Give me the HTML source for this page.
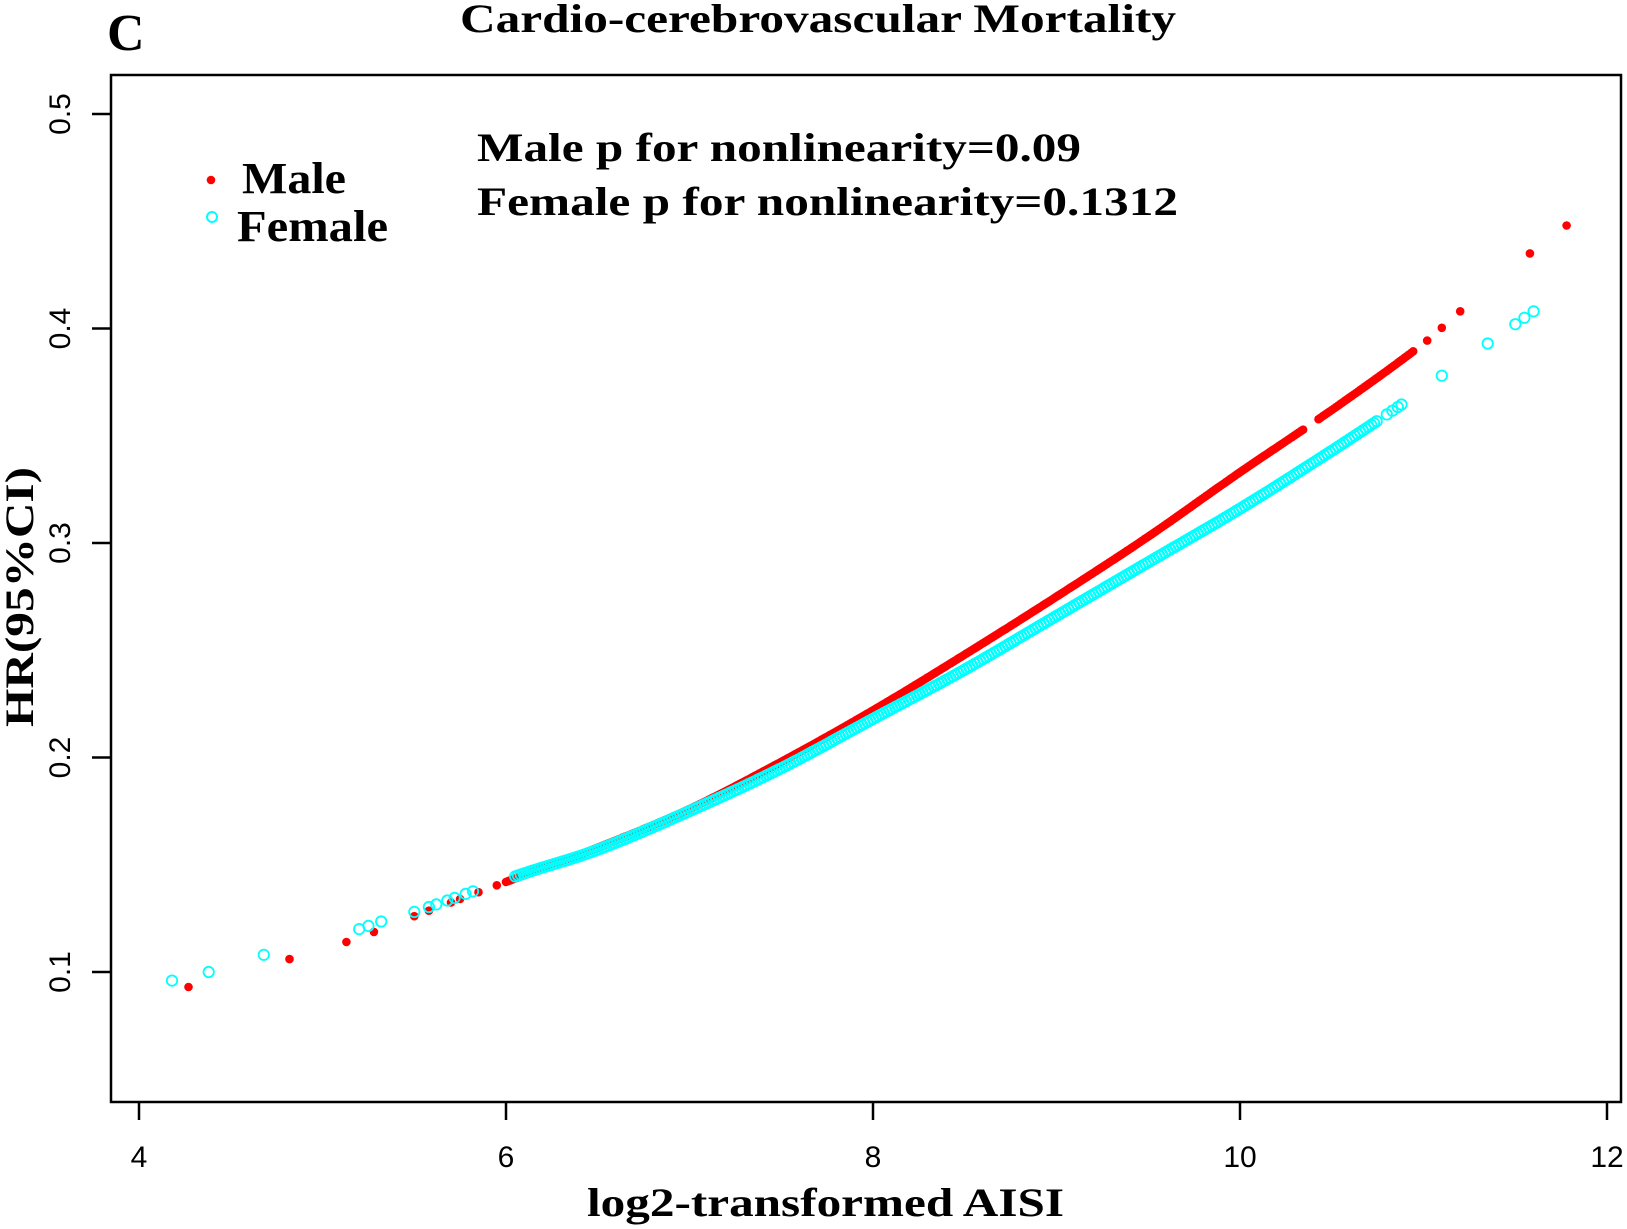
<!DOCTYPE html>
<html><head><meta charset="utf-8"><style>html,body{margin:0;padding:0;background:#fff}</style></head>
<body>
<svg id="s" width="1627" height="1229" xmlns="http://www.w3.org/2000/svg" style="display:block">
<rect width="1627" height="1229" fill="#fff"/>
<text x="107" y="50" font-family="Liberation Serif,serif" font-weight="bold" font-size="52">C</text>
<text x="460" y="32" font-family="Liberation Serif,serif" font-weight="bold" font-size="40" textLength="716" lengthAdjust="spacingAndGlyphs">Cardio-cerebrovascular Mortality</text>
<rect x="111" y="75" width="1510" height="1027" fill="none" stroke="#000" stroke-width="2.5"/>
<g stroke="#000" stroke-width="2.5">
<line x1="139" y1="1102" x2="139" y2="1120"/><line x1="506" y1="1102" x2="506" y2="1120"/><line x1="873" y1="1102" x2="873" y2="1120"/><line x1="1240" y1="1102" x2="1240" y2="1120"/><line x1="1607" y1="1102" x2="1607" y2="1120"/>
<line x1="92" y1="114" x2="111" y2="114"/><line x1="92" y1="328.5" x2="111" y2="328.5"/><line x1="92" y1="543" x2="111" y2="543"/><line x1="92" y1="757.5" x2="111" y2="757.5"/><line x1="92" y1="972" x2="111" y2="972"/>
</g>
<g font-family="Liberation Sans,sans-serif" font-size="30" text-anchor="middle">
<text x="139" y="1167">4</text><text x="506" y="1167">6</text><text x="873" y="1167">8</text><text x="1240" y="1167">10</text><text x="1607" y="1167">12</text>
<text transform="translate(70,114) rotate(-90)">0.5</text>
<text transform="translate(70,328.5) rotate(-90)">0.4</text>
<text transform="translate(70,543) rotate(-90)">0.3</text>
<text transform="translate(70,757.5) rotate(-90)">0.2</text>
<text transform="translate(70,972) rotate(-90)">0.1</text>
</g>
<g font-family="Liberation Serif,serif" font-weight="bold">
<text x="587" y="1216" font-size="40" textLength="477" lengthAdjust="spacingAndGlyphs">log2-transformed AISI</text>
<text transform="translate(33,597) rotate(-90)" font-size="40" text-anchor="middle" textLength="260" lengthAdjust="spacingAndGlyphs">HR(95%CI)</text>
<text x="242" y="193" font-size="44" textLength="104" lengthAdjust="spacingAndGlyphs">Male</text>
<text x="237" y="241" font-size="44" textLength="151" lengthAdjust="spacingAndGlyphs">Female</text>
<text x="477" y="161" font-size="40" textLength="604" lengthAdjust="spacingAndGlyphs">Male p for nonlinearity=0.09</text>
<text x="477" y="215" font-size="40" textLength="701" lengthAdjust="spacingAndGlyphs">Female p for nonlinearity=0.1312</text>
</g>
<circle cx="211" cy="180" r="4.3" fill="#ff0000"/>
<circle cx="212" cy="217" r="5" fill="none" stroke="#00ffff" stroke-width="2"/>
<g id="pts"></g>
</svg>
<script>
function X(v){return 139+(v-4)*183.5}
function Y(v){return 114+(0.5-v)*2145}
function interp(k,x){if(x<=k[0][0])return k[0][1];for(var i=0;i<k.length-1;i++){if(x<=k[i+1][0]){var a=k[i],b=k[i+1];var t=(x-a[0])/(b[0]-a[0]);
var p0=k[Math.max(i-1,0)],p3=k[Math.min(i+2,k.length-1)];
var m1=(b[1]-p0[1])/(b[0]-p0[0]),m2=(p3[1]-a[1])/(p3[0]-a[0]);var h=b[0]-a[0];
var t2=t*t,t3=t2*t;return (2*t3-3*t2+1)*a[1]+(t3-2*t2+t)*h*m1+(-2*t3+3*t2)*b[1]+(t3-t2)*h*m2;}}return k[k.length-1][1];}
var M=[[4.27,.093],[4.82,.106],[5.13,.114],[5.5,.126],[6,.142],[6.5,.158],[7,.176],[7.5,.198],[8,.222],[8.5,.248],[9,.275],[9.5,.303],[10,.333],[10.5,.362],[11,.393],[11.2,.408],[11.58,.435],[11.78,.448]];
var F=[[4.18,.096],[4.38,.1],[4.68,.108],[5.2,.12],[5.3,.123],[5.5,.128],[5.8,.137],[6.1,.146],[6.5,.157],[7,.175],[7.5,.195],[8,.218],[8.5,.241],[9,.266],[9.5,.291],[10,.316],[10.5,.343],[10.87,.364],[11.1,.378],[11.35,.393],[11.6,.408]];
var mx=[4.27,4.82,5.13,5.28,5.5,5.58,5.7,5.75,5.85,5.95],fx=[4.18,4.38,4.68,5.2,5.25,5.32,5.5,5.58,5.62,5.68,5.72,5.78,5.82];
for(var x=6;x<=10.95;x+=0.012){if(!(x>10.35&&x<10.42))mx.push(x);}
mx.push(11.02,11.1,11.2,11.58,11.78);
for(var x=6.05;x<=10.75;x+=0.015)fx.push(x);
fx.push(10.8,10.83,10.86,10.88,11.1,11.35,11.5,11.55,11.6);
var h='';
mx.forEach(function(x){h+='<circle cx="'+X(x).toFixed(1)+'" cy="'+Y(interp(M,x)).toFixed(1)+'" r="4.3" fill="#ff0000"/>';});
fx.forEach(function(x){h+='<circle cx="'+X(x).toFixed(1)+'" cy="'+Y(interp(F,x)).toFixed(1)+'" r="5.2" fill="none" stroke="#00ffff" stroke-width="1.8"/>';});
document.getElementById('pts').innerHTML=h;
</script>
</body></html>
